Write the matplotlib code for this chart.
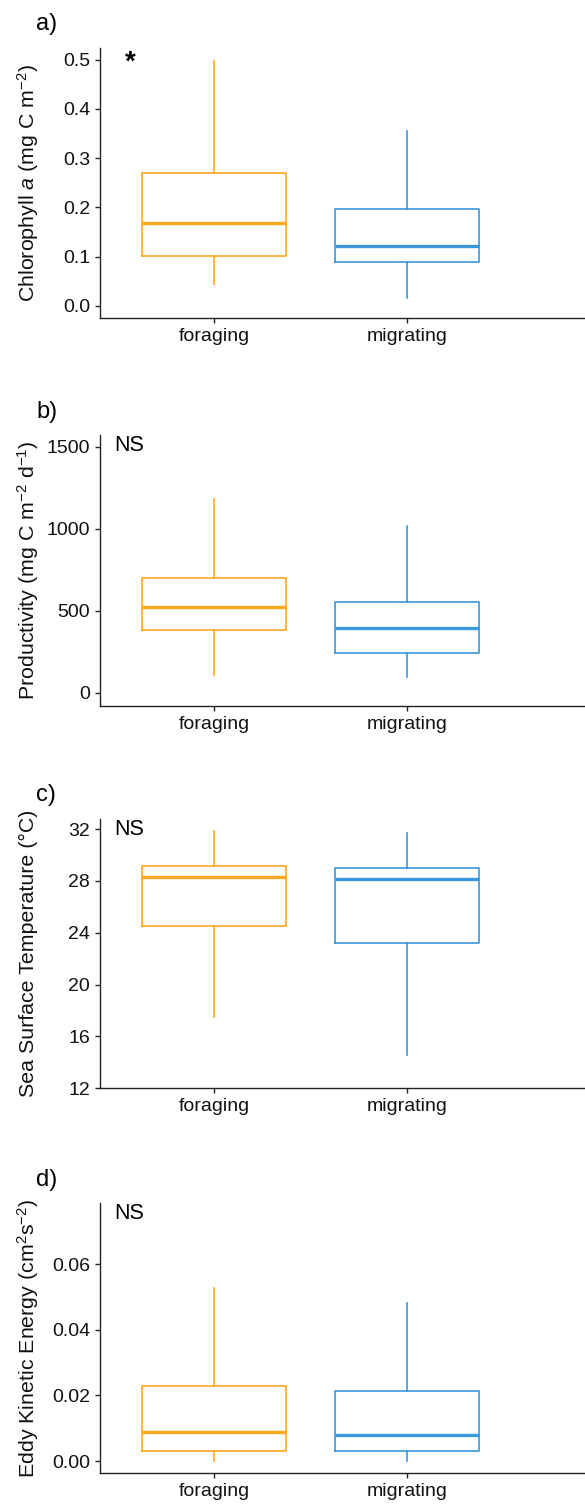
import matplotlib
matplotlib.use("Agg")
import matplotlib.pyplot as plt

plt.rcParams['font.family'] = ['Liberation Sans', 'DejaVu Sans']
plt.rcParams['mathtext.fontset'] = 'custom'
plt.rcParams['mathtext.rm'] = 'Liberation Sans'
plt.rcParams['mathtext.it'] = 'Liberation Sans:italic'
plt.rcParams['mathtext.bf'] = 'Liberation Sans:bold'

categories = ["foraging", "migrating"]
colors = ["#FFA620", "#3A96DD"]

# five-number summaries: [whislo, q1, median, q3, whishi] per category
chl_foraging = [0.044, 0.101, 0.168, 0.269, 0.497]
chl_migrating = [0.016, 0.088, 0.122, 0.196, 0.356]

prod_foraging = [110, 381, 523, 702, 1182]
prod_migrating = [98, 244, 393, 556, 1018]

sst_foraging = [17.48, 24.5, 28.27, 29.17, 31.85]
sst_migrating = [14.54, 23.23, 28.14, 29.02, 31.69]

eke_foraging = [0.0, 0.003, 0.0089, 0.0229, 0.0528]
eke_migrating = [0.0, 0.003, 0.0079, 0.0213, 0.048]

panel_letters = ["a)", "b)", "c)", "d)"]
signif = ["*", "NS", "NS", "NS"]
ylabels = [
    "Chlorophyll $\\it{a}$ (mg C m$^{-2}$)",
    "Productivity (mg C m$^{-2}$ d$^{-1}$)",
    "Sea Surface Temperature (\u00b0C)",
    "Eddy Kinetic Energy (cm$^{2}$s$^{-2}$)",
]
yticks = [
    [0.0, 0.1, 0.2, 0.3, 0.4, 0.5],
    [0, 500, 1000, 1500],
    [12, 16, 20, 24, 28, 32],
    [0.00, 0.02, 0.04, 0.06],
]
ytick_labels = [
    ["0.0", "0.1", "0.2", "0.3", "0.4", "0.5"],
    ["0", "500", "1000", "1500"],
    ["12", "16", "20", "24", "28", "32"],
    ["0.00", "0.02", "0.04", "0.06"],
]
ylims = [(-0.0244, 0.524), (-79, 1573), (12, 32.75), (-0.0037, 0.0785)]
data = [
    (chl_foraging, chl_migrating),
    (prod_foraging, prod_migrating),
    (sst_foraging, sst_migrating),
    (eke_foraging, eke_migrating),
]

W, H = 585, 1507
fig = plt.figure(figsize=(W / 100, H / 100), dpi=100)

tops = [48, 435, 819.3, 1203.3]
bottoms = [317.7, 705.7, 1088.3, 1473.3]
left_px = 100
right_px = 586

for i in range(4):
    t, b = tops[i], bottoms[i]
    ax = fig.add_axes([left_px / W, 1 - b / H, (right_px - left_px) / W, (b - t) / H])
    stats = []
    for j, s in enumerate(data[i]):
        stats.append(dict(whislo=s[0], q1=s[1], med=s[2], q3=s[3], whishi=s[4],
                          fliers=[], label=categories[j]))
    for j, st in enumerate(stats):
        c = colors[j]
        ax.bxp([st], positions=[j + 1], widths=0.75, showfliers=False, showcaps=False,
               patch_artist=False,
               boxprops=dict(color=c, linewidth=1.2),
               whiskerprops=dict(color=c, linewidth=1.2),
               medianprops=dict(color=c, linewidth=2.4, solid_capstyle='butt'))
    ax.set_xlim(0.406, 2.932)
    ax.set_ylim(*ylims[i])
    ax.set_xticks([1, 2])
    ax.set_xticklabels(categories)
    ax.set_yticks(yticks[i])
    ax.set_yticklabels(ytick_labels[i])
    ax.tick_params(axis='both', length=3.6, width=1.0, color='#222222',
                   labelsize=14, labelcolor='#111111', pad=3.5)
    for sp in ['top', 'right']:
        ax.spines[sp].set_visible(False)
    for sp in ['left', 'bottom']:
        ax.spines[sp].set_color('#222222')
        ax.spines[sp].set_linewidth(1.0)
    ax.patch.set_alpha(0)
    # significance annotation
    if signif[i] == "*":
        ax.text(0.052, 1 - 22 / (b - t), signif[i], transform=ax.transAxes, ha='left',
                va='baseline', fontsize=20, fontweight='bold', color='black')
    else:
        ax.text(0.029, 1.0, signif[i], transform=ax.transAxes, ha='left', va='top',
                fontsize=15.5, color='black')
    # y label
    fig.text(28 / W, 1 - ((t + b) / 2) / H, ylabels[i], rotation=90, ha='center',
             va='center', fontsize=15.4, color='#111111')

# panel letters
letter_y = [24, 412, 795, 1180]
for i in range(4):
    fig.text(36 / W, 1 - letter_y[i] / H, panel_letters[i], ha='left', va='center',
             fontsize=17, color='black')

fig.savefig("out.png", dpi=100)
